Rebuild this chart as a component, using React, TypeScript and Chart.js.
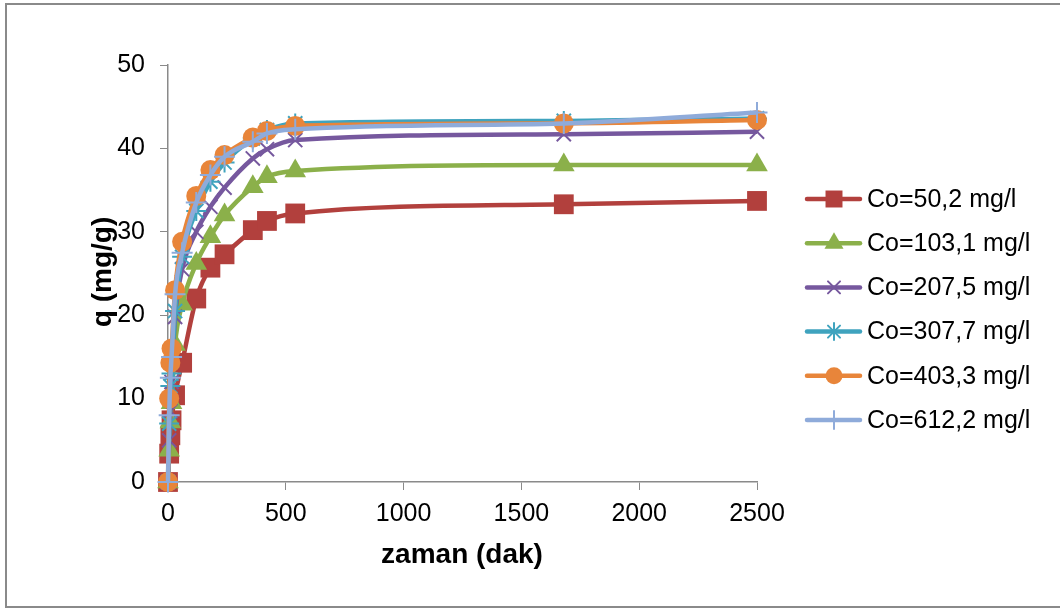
import React, { useEffect, useRef } from 'react';
import { Chart, registerables } from 'chart.js';

Chart.register(...registerables);

// ---- data ----
const times = [0, 5, 10, 15, 30, 60, 120, 180, 240, 360, 420, 540, 1680, 2500];
const labels = ['Co=50,2 mg/l', 'Co=103,1 mg/l', 'Co=207,5 mg/l', 'Co=307,7 mg/l', 'Co=403,3 mg/l', 'Co=612,2 mg/l'];
const q50 = [0, 3.4, 5.6, 7.4, 10.4, 14.3, 22.0, 25.7, 27.3, 30.2, 31.3, 32.2, 33.3, 33.7];
const q103 = [0, 3.8, 7.2, 9.5, 16.5, 21.3, 26.2, 29.4, 32.0, 35.4, 36.6, 37.3, 38.0, 38.0];
const q207 = [0, 5.0, 8.5, 12.0, 19.8, 25.5, 30.0, 33.0, 35.3, 38.8, 39.9, 41.0, 41.7, 42.0];
const q307 = [0, 7.0, 11.5, 13.0, 20.5, 27.0, 32.5, 36.0, 38.3, 41.2, 42.2, 43.0, 43.3, 43.6];
const q403 = [0, 10.0, 14.3, 16.0, 23.0, 28.8, 34.3, 37.4, 39.2, 41.3, 42.1, 42.7, 43.0, 43.4];
const q612 = [0, 8.0, 12.5, 15.0, 22.5, 27.5, 33.5, 36.8, 39.0, 40.8, 41.8, 42.3, 43.0, 44.3];
const xTicks = [0, 500, 1000, 1500, 2000, 2500];
const yTicks = [0, 10, 20, 30, 40, 50];

const seriesValues = [q50, q103, q207, q307, q403, q612];
const colors = ['#B2403D', '#8BB04A', '#76589E', '#3FA3BE', '#E8853A', '#8FABDA'];
const markerStyles = ['rect', 'triangle', 'crossRot', 'star', 'circle', 'cross'];
const markerRadius = [14, 12.5, 10, 10, 10, 10.5];

const FONT = '"Liberation Sans", Arial, sans-serif';

function drawMarker(ctx: CanvasRenderingContext2D, style: string, x: number, y: number, r: number, color: string) {
  ctx.save();
  ctx.fillStyle = color;
  ctx.strokeStyle = color;
  ctx.lineWidth = 2;
  ctx.beginPath();
  if (style === 'rect') {
    const s = r * Math.SQRT1_2;
    ctx.rect(x - s, y - s, 2 * s, 2 * s);
    ctx.fill();
  } else if (style === 'triangle') {
    const h = r * 1.5;
    const w = r * Math.sqrt(3) / 2;
    ctx.moveTo(x - w, y + h / 3);
    ctx.lineTo(x + w, y + h / 3);
    ctx.lineTo(x, y - (2 * h) / 3);
    ctx.closePath();
    ctx.fill();
  } else if (style === 'circle') {
    ctx.arc(x, y, r, 0, Math.PI * 2);
    ctx.fill();
  } else {
    const d = r * Math.SQRT1_2;
    if (style === 'crossRot' || style === 'star') {
      ctx.moveTo(x - d, y - d); ctx.lineTo(x + d, y + d);
      ctx.moveTo(x - d, y + d); ctx.lineTo(x + d, y - d);
    }
    if (style === 'cross' || style === 'star') {
      ctx.moveTo(x, y - r); ctx.lineTo(x, y + r);
      ctx.moveTo(x - r, y); ctx.lineTo(x + r, y);
    }
    ctx.stroke();
  }
  ctx.restore();
}

const decor = {
  id: 'decor',
  beforeDraw(chart: any) {
    const ctx = chart.ctx as CanvasRenderingContext2D;
    ctx.save();
    ctx.fillStyle = '#ffffff';
    ctx.fillRect(0, 0, chart.width, chart.height);
    ctx.strokeStyle = '#8a8a8a';
    ctx.lineWidth = 2;
    ctx.strokeRect(6, 4, 1100, 603);
    ctx.restore();
  },
  afterDraw(chart: any) {
    const ctx = chart.ctx as CanvasRenderingContext2D;
    ctx.save();
    ctx.fillStyle = '#000';
    ctx.font = `bold 28px ${FONT}`;
    ctx.textAlign = 'center';
    ctx.textBaseline = 'middle';
    ctx.fillText('zaman (dak)', 462, 555);
    ctx.translate(103, 272);
    ctx.rotate(-Math.PI / 2);
    ctx.fillText('q (mg/g)', 0, 0);
    ctx.restore();

    // legend
    ctx.save();
    const y0 = 199;
    const dy = 44.2;
    labels.forEach((lab, i) => {
      const y = y0 + i * dy;
      ctx.strokeStyle = colors[i];
      ctx.lineWidth = 4.5;
      ctx.lineCap = 'round';
      ctx.beginPath();
      ctx.moveTo(807, y);
      ctx.lineTo(860, y);
      ctx.stroke();
      const lr = [12, 11, 8.5, 8.5, 8.5, 9][i];
      drawMarker(ctx, markerStyles[i], 834, y, lr, colors[i]);
      ctx.fillStyle = '#000';
      ctx.font = `25px ${FONT}`;
      ctx.textAlign = 'left';
      ctx.textBaseline = 'middle';
      ctx.fillText(lab, 867, y + 1);
    });
    ctx.restore();
  },
};

export default function App() {
  const ref = useRef<HTMLCanvasElement | null>(null);
  useEffect(() => {
    if (!ref.current) return;
    const datasets = seriesValues.map((vals, i) => {
      const stroked = ['crossRot', 'star', 'cross'].includes(markerStyles[i]);
      return {
        label: labels[i],
        data: times.map((t, j) => ({ x: t, y: vals[j] })),
        borderColor: colors[i],
        backgroundColor: colors[i],
        borderWidth: 4.5,
        pointStyle: markerStyles[i],
        pointRadius: markerRadius[i],
        pointBorderWidth: stroked ? 2 : 0,
        pointBackgroundColor: colors[i],
        pointBorderColor: colors[i],
        tension: 0.4,
        cubicInterpolationMode: 'monotone',
        clip: false,
        order: 5 - i,
      };
    });
    const tickFont = { family: FONT, size: 25 };
    const chart = new Chart(ref.current, {
      type: 'line',
      data: { datasets: datasets as any },
      options: {
        animation: false,
        responsive: false,
        devicePixelRatio: 1,
        layout: { padding: { left: 0, right: 303, top: 65, bottom: 68 } },
        plugins: { legend: { display: false }, tooltip: { enabled: false }, title: { display: false } },
        scales: {
          x: {
            type: 'linear',
            min: 0,
            max: 2500,
            afterBuildTicks: (s: any) => { s.ticks = xTicks.map((v) => ({ value: v })); },
            ticks: { color: '#000', font: tickFont, padding: 9, maxRotation: 0, autoSkip: false, callback: (v: any) => String(v) },
            grid: { drawOnChartArea: false, drawTicks: true, tickLength: 8, color: '#8a8a8a' },
            border: { color: '#8a8a8a', width: 1.5 },
            afterFit: (s: any) => { s.height = 60; },
          },
          y: {
            type: 'linear',
            min: 0,
            max: 50,
            afterBuildTicks: (s: any) => { s.ticks = yTicks.map((v) => ({ value: v })); },
            ticks: { color: '#000', font: tickFont, padding: 15, autoSkip: false, callback: (v: any) => String(v) },
            grid: { drawOnChartArea: false, drawTicks: true, tickLength: 8, color: '#8a8a8a' },
            border: { color: '#8a8a8a', width: 1.5 },
            afterFit: (s: any) => { s.width = 168; },
          },
        },
      },
      plugins: [decor],
    });
    return () => chart.destroy();
  }, []);
  return (
    <div style={{ position: 'absolute', left: 0, top: 0, width: 1060, height: 610, background: '#fff' }}>
      <canvas ref={ref} width={1060} height={610} style={{ width: 1060, height: 610, display: 'block' }} />
    </div>
  );
}
